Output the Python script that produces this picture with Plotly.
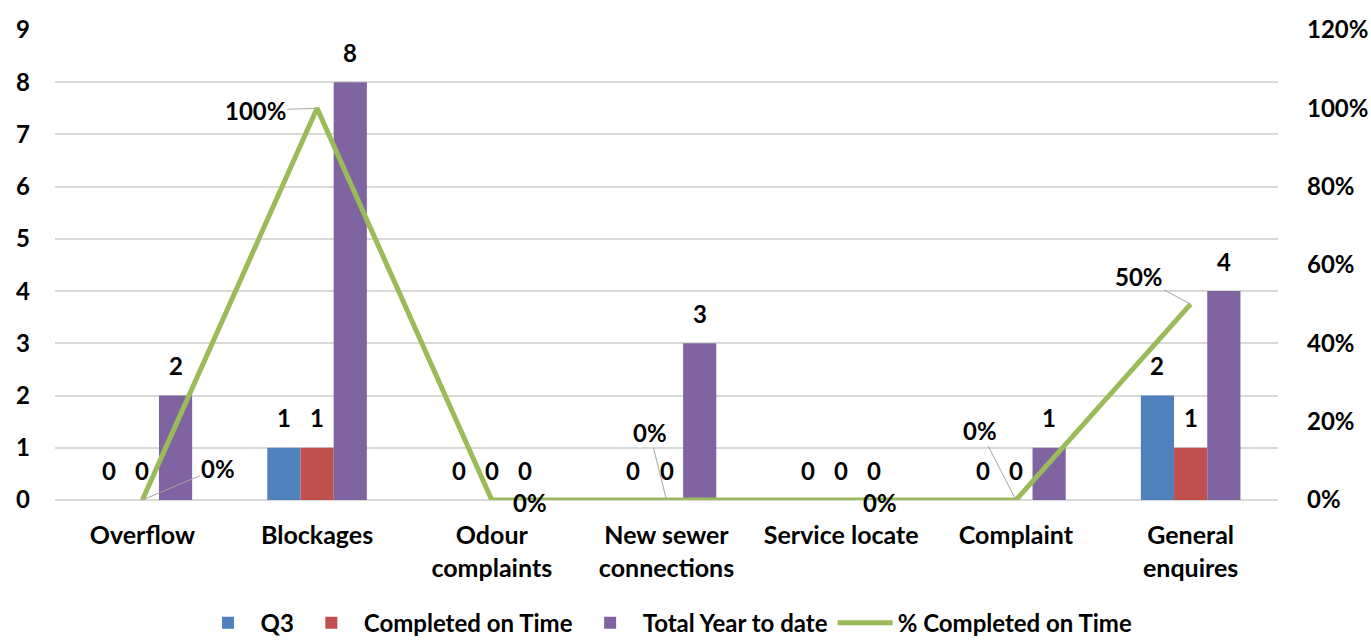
import plotly.graph_objects as go

categories = ["Overflow", "Blockages", "Odour<br>complaints", "New sewer<br>connections",
              "Service locate", "Complaint", "General<br>enquires"]
q3 = [0, 1, 0, 0, 0, 0, 2]
completed_on_time = [0, 1, 0, 0, 0, 0, 1]
total_year_to_date = [2, 8, 0, 3, 0, 1, 4]
pct_completed = [0.0, 1.0, 0.0, 0.0, 0.0, 0.0, 0.5]

FONT = "Lato"
BLUE, RED, PURPLE, GREEN = "#4F81BD", "#C0504D", "#8064A2", "#9BBB59"

W, H = 1371, 640
M_L, M_R, M_T, M_B = 55, 93, 30, 140
BARGAP = 0.43

fig = go.Figure()
bar_series = [("Q3", q3, BLUE), ("Completed on Time", completed_on_time, RED),
              ("Total Year to date", total_year_to_date, PURPLE)]
for name, vals, col in bar_series:
    fig.add_trace(go.Bar(name=name, x=categories, y=vals, marker_color=col,
                         marker_line_width=0, yaxis="y"))

fig.add_trace(go.Scatter(name="% Completed on Time", x=categories, y=pct_completed,
                         mode="lines", line=dict(color=GREEN, width=5), yaxis="y2"))

# value labels above each bar
plot_w = W - M_L - M_R
bar_w = plot_w / len(categories) * (1 - BARGAP) / len(bar_series)
annotations = []
for i, (name, vals, col) in enumerate(bar_series):
    off = (i - 1) * bar_w
    for c, v in zip(categories, vals):
        annotations.append(dict(x=c, y=v, xref="x", yref="y", text=f"<b>{v}</b>",
                                showarrow=False, xshift=off, yshift=30,
                                font=dict(family=FONT, size=24, color="black")))

# percentage labels with leader lines (pixel offsets of the label from its point)
pct_offsets = [(76, -32, True), (-62, 2, True), (38, 2, False), (-17, -68, True),
               (39, 2, False), (-36, -70, True), (-52, -28, True)]
for c, p, (ax, ay, lead) in zip(categories, pct_completed, pct_offsets):
    annotations.append(dict(x=c, y=p, xref="x", yref="y2", text=f"<b>{p:.0%}</b>",
                            showarrow=lead, arrowhead=0, arrowwidth=1, arrowcolor="#A6A6A6",
                            ax=ax, ay=ay, standoff=0,
                            xshift=0 if lead else ax, yshift=0 if lead else -ay,
                            font=dict(family=FONT, size=24, color="black")))

fig.update_layout(
    width=W, height=H,
    margin=dict(l=M_L, r=M_R, t=M_T, b=M_B, autoexpand=False),
    paper_bgcolor="white", plot_bgcolor="white",
    barmode="group", bargap=BARGAP, bargroupgap=0,
    font=dict(family=FONT, color="black"),
    annotations=annotations,
    xaxis=dict(showgrid=False, showline=False, ticks="", ticklabelstandoff=18,
               automargin=False,
               tickfont=dict(family=FONT, size=25, color="black", weight="bold")),
    yaxis=dict(range=[0, 9], dtick=1, showgrid=True, gridcolor="#D9D9D9", gridwidth=2,
               zeroline=True, zerolinecolor="#D9D9D9", zerolinewidth=2,
               ticks="", ticklabelstandoff=24, automargin=False,
               tickfont=dict(family=FONT, size=24, color="black", weight="bold")),
    yaxis2=dict(range=[0, 1.2], dtick=0.2, tickformat=".0%", overlaying="y", side="right",
                showgrid=False, zeroline=False, ticks="", ticklabelstandoff=28,
                automargin=False,
                tickfont=dict(family=FONT, size=24, color="black", weight="bold")),
    legend=dict(orientation="h", x=0.5, xanchor="center", y=-0.262, yanchor="middle",
                font=dict(family=FONT, size=24, color="black", weight="bold"),
                itemwidth=55, traceorder="normal"),
    showlegend=True,
)

fig.write_html("out.html")
